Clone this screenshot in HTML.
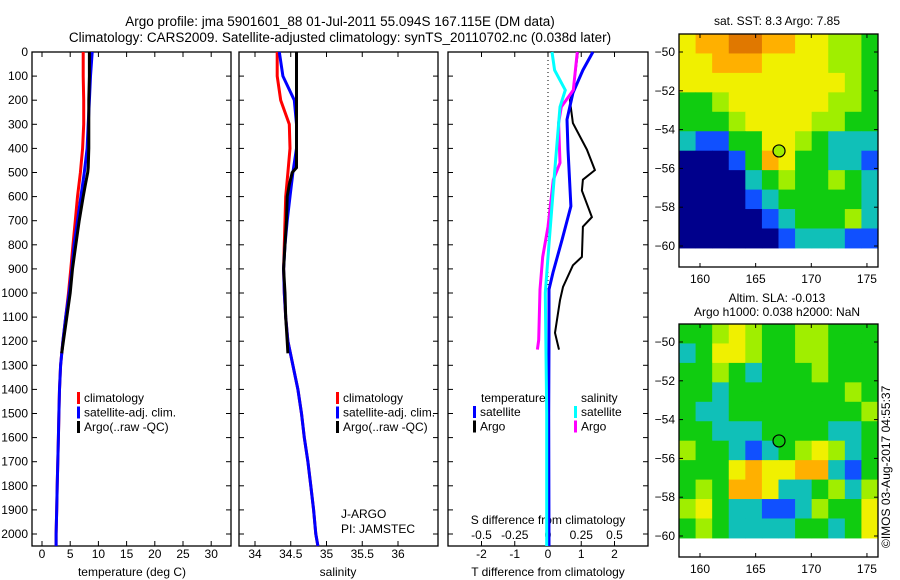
<!DOCTYPE html>
<html><head><meta charset="utf-8"><style>
body{margin:0;background:#fff;}
svg{display:block;font-family:"Liberation Sans",sans-serif;}
text{fill:#000;}
</style></head><body>
<svg id="fig" width="900" height="580" viewBox="0 0 900 580" xmlns="http://www.w3.org/2000/svg">
<text x="340" y="26" font-size="13.5" text-anchor="middle">Argo profile: jma 5901601_88 01-Jul-2011 55.094S 167.115E (DM data)</text>
<text x="340" y="42" font-size="13.5" text-anchor="middle">Climatology: CARS2009. Satellite-adjusted climatology: synTS_20110702.nc (0.038d later)</text>
<g id="g"></g>
</svg>
<script>
// ---- data ----
const depths=[0,100,200,300,400,500,600,700,800,900,1000,1100,1200,1300,1400,1500,1600,1700,1800,1900,2000,2050];
const argoDepths=[0,100,200,300,400,480,500,550,600,700,800,900,1000,1100,1200,1250];
const tempClim=[7.3,7.3,7.4,7.4,7.2,6.8,6.3,5.9,5.5,5.1,4.7,4.2,3.7,3.3,3.1,3.0,2.9,2.8,2.7,2.6,2.5,2.5];
const tempSat=[8.9,8.6,8.4,8.2,8.0,7.5,6.9,6.3,5.7,5.3,4.8,4.2,3.7,3.3,3.1,3.0,2.9,2.8,2.7,2.6,2.5,2.5];
const tempArgo=[8.4,8.4,8.3,8.3,8.3,8.2,8.1,7.7,7.3,6.6,6.0,5.4,5.0,4.4,3.8,3.5];
const salClim=[34.31,34.31,34.36,34.48,34.49,34.46,34.43,34.42,34.41,34.40,34.41,34.43,34.46,34.53,34.60,34.65,34.69,34.74,34.78,34.82,34.85,34.88];
const salSat=[34.34,34.39,34.55,34.58,34.58,34.53,34.49,34.45,34.42,34.40,34.41,34.43,34.46,34.53,34.60,34.65,34.69,34.74,34.78,34.82,34.85,34.88];
const salArgo=[34.58,34.58,34.58,34.58,34.58,34.58,34.52,34.48,34.45,34.44,34.42,34.40,34.42,34.43,34.45,34.46];
const dtArgoDepths=[0,170,200,295,405,490,530,575,685,725,850,885,975,1030,1165,1235];
const dtArgo=[0.9,0.75,0.66,0.75,1.17,1.41,1.05,1.02,1.32,1.05,1.02,0.75,0.45,0.36,0.21,0.33];
const dtSatDepths=[0,75,170,280,405,640,780,915,985,1200,1500,2050];
const dtSat=[1.35,1.05,0.75,0.57,0.6,0.69,0.42,0.15,0.03,0.03,0.02,0.03];
const dsSatDepths=[0,75,158,228,500,850,1000,1500,2050];
const dsSat=[0.03,0.05,0.13,0.09,0.05,0.0,-0.02,-0.01,-0.01];
const dsArgoDepths=[0,158,228,295,460,530,725,850,985,1195,1235];
const dsArgo=[0.22,0.19,0.1,0.08,0.09,0.04,0.0,-0.04,-0.06,-0.07,-0.08];
const depthTicks=[0,100,200,300,400,500,600,700,800,900,1000,1100,1200,1300,1400,1500,1600,1700,1800,1900,2000];
const tempTicks=[0,5,10,15,20,25,30];
const salTicks=["34","34.5","35","35.5","36"];
const dtTicks=["-2","-1","0","1","2"];
const dsTicks=["-0.5","-0.25","0","0.25","0.5"];
const latTicks=[-50,-52,-54,-56,-58,-60];
const lonTicks=[160,165,170,175];
const sstGrid=["YOORROOYYLLG","YYOOOYYYYLLG","YYYYYYYYYYLG","GGLYYYYYYLLG","GGGLYYYYLLGG","CBBGGYYLGCCC","NNNBGOYGGCCB","NNNNCGLGGLGC","NNNNBCGGGGGC","NNNNNBCGGGLC","NNNNNNBCCCBB"];
const slaGrid=["GGLYLGGLLGGG","CGYYLGGLLGGG","GGLGCGGGLGGG","GGCGGGGGGGLG","GCCGGGGGGGGL","GGCCCGGGGCCG","LGGCBCGLYLCG","GGGYOYYOOCBG","GLGOOYCCGLCL","LYGCCBBCLGGY","GLGCCCCGGCGY"];
const argoLon=167.1, argoLat=-55.1;

// ---- helpers ----
const NS="http://www.w3.org/2000/svg";
const G=document.getElementById('g');
function mk(tag,attrs,parent){const e=document.createElementNS(NS,tag);for(const k in attrs)e.setAttribute(k,attrs[k]);(parent||G).appendChild(e);return e;}
function txt(s,x,y,size,anchor,parent){const t=mk('text',{x:x,y:y,'font-size':size,'text-anchor':anchor||'middle'},parent);t.textContent=s;return t;}
const top0=52, bot0=546;
const yD=d=>top0+0.241*d;
const xT=v=>42+5.64*v;
const xS=v=>255+71.5*(v-34);
const xDT=v=>548+33.25*v;
const xDS=v=>548+133*v;

function panel(name,x0,x1){
  const r=mk('rect',{x:x0,y:top0,width:x1-x0,height:bot0-top0,fill:'none',stroke:'#000','stroke-width':1.3});
  
  
  depthTicks.forEach(d=>{mk('line',{x1:x0,x2:x0+5,y1:yD(d),y2:yD(d),stroke:'#000'});mk('line',{x1:x1,x2:x1-5,y1:yD(d),y2:yD(d),stroke:'#000'});});
}
function xticks(pos,labels,y,parent){
  pos.forEach((p,i)=>{mk('line',{x1:p,x2:p,y1:bot0,y2:bot0-5,stroke:'#000'});mk('line',{x1:p,x2:p,y1:top0,y2:top0+5,stroke:'#000'});
    const t=txt(labels[i],p,y,12);});
}
function line(name,ds,vals,xf,color,w){
  const pts=ds.map((d,i)=>xf(vals[i]).toFixed(1)+','+yD(d).toFixed(1)).join(' ');
  const p=mk('polyline',{points:pts,fill:'none',stroke:color,'stroke-width':w,'stroke-linejoin':'miter'});
  
  
}
function legend(items,x,y0,parent){
  items.forEach((it,i)=>{const y=y0+i*14.5;mk('rect',{x:x,y:y-10,width:3,height:12,fill:it[1]});
    const t=txt(it[0],x+7,y,12,'start');});
}

// depth labels
depthTicks.forEach(d=>{const t=txt(String(d),28,yD(d)+4,12,'end');});

// panel 1 temperature
panel('temperature-panel',32,231);
xticks(tempTicks.map(xT),tempTicks.map(String),558);
line('temp-climatology',depths,tempClim,xT,'#ff0000',3);
line('temp-satellite',depths,tempSat,xT,'#0000ff',3);
line('temp-argo',argoDepths,tempArgo,xT,'#000',3);
txt('temperature (deg C)',132,576,12);
legend([['climatology','#ff0000'],['satellite-adj. clim.','#0000ff'],['Argo(..raw -QC)','#000']],77,402);

// panel 2 salinity
panel('salinity-panel',239,438);
xticks(salTicks.map(s=>xS(parseFloat(s))),salTicks,558);
line('sal-climatology',depths,salClim,xS,'#ff0000',3);
line('sal-satellite',depths,salSat,xS,'#0000ff',3);
line('sal-argo',argoDepths,salArgo,xS,'#000',3);
txt('salinity',338,576,12);
legend([['climatology','#ff0000'],['satellite-adj. clim.','#0000ff'],['Argo(..raw -QC)','#000']],336,402);
txt('J-ARGO',341,518,12,'start');
txt('PI: JAMSTEC',341,533,12,'start');

// panel 3 differences
panel('difference-panel',448,648);
mk('line',{x1:548,x2:548,y1:top0,y2:bot0,stroke:'#000','stroke-dasharray':'1,3'});
xticks(dtTicks.map(s=>xDT(parseFloat(s))),dtTicks,558);
dsTicks.forEach(s=>{const t=txt(s,xDS(parseFloat(s)),539,12);});
txt('S difference from climatology',548,524,12);
txt('T difference from climatology',548,576,12);
line('dt-argo',dtArgoDepths,dtArgo,xDT,'#000',2);
line('dt-satellite',dtSatDepths,dtSat,xDT,'#0000ff',3);
line('ds-argo',dsArgoDepths,dsArgo,xDS,'#ff00ff',3);
line('ds-satellite',dsSatDepths,dsSat,xDS,'#00ffff',3);
txt('temperature',481,402,12,'start');
txt('salinity',581,402,12,'start');
legend([['satellite','#0000ff'],['Argo','#000']],473,416);
legend([['satellite','#00ffff'],['Argo','#ff00ff']],574,416);

// maps
const pal={N:'#00008c',B:'#1050ff',C:'#10c0b8',G:'#10cc10',L:'#a0ee00',Y:'#f0f000',O:'#ffb000',R:'#e07800'};
const mx0=679,mx1=878;
function mapPanel(name,grid,boxTop,lat50y,circleFill){
  const xL=lon=>700+(lon-160)*11.13;
  const yL=lat=>lat50y+(-50-lat)*19.4;
  const g=mk('g',{});
  
  
  const cols=grid[0].length, rows=grid.length;
  const cw=(mx1-mx0)/cols, ytop=boxTop, ybot=yL(-60.1), ch=(ybot-ytop)/rows;
  grid.forEach((row,r)=>{for(let c=0;c<cols;c++){mk('rect',{x:mx0+c*cw,y:ytop+r*ch,width:cw+0.5,height:ch+0.5,fill:pal[row[c]]},g);}});
  mk('rect',{x:mx0,y:boxTop,width:mx1-mx0,height:233,fill:'none',stroke:'#000','stroke-width':1.3},g);
  latTicks.forEach(l=>{const y=yL(l);mk('line',{x1:mx0,x2:mx0+4,y1:y,y2:y,stroke:'#000'},g);mk('line',{x1:mx1,x2:mx1-4,y1:y,y2:y,stroke:'#000'},g);
    const t=txt(String(l).replace('-','\u2212'),675,y+4,12,'end',g);});
  lonTicks.forEach(l=>{const x=xL(l);mk('line',{x1:x,x2:x,y1:boxTop,y2:boxTop+4,stroke:'#000'},g);mk('line',{x1:x,x2:x,y1:boxTop+233,y2:boxTop+229,stroke:'#000'},g);
    const t=txt(String(l),x,boxTop+249,12,'middle',g);});
  const c=mk('circle',{cx:xL(argoLon),cy:yL(argoLat),r:6,fill:circleFill,stroke:'#000','stroke-width':1.2},g);
  
  
}
mapPanel('sst-map',sstGrid,34,52,'#a0ee00');
mapPanel('sla-map',slaGrid,324,342,'#10cc10');
txt('sat. SST: 8.3 Argo: 7.85',777,25,12);
txt('Altim. SLA: -0.013',777,302,12);
txt('Argo h1000: 0.038 h2000: NaN',777,316,12);
const cp=txt('\u00a9IMOS 03-Aug-2017 04:55:37',0,0,12,'start');
cp.setAttribute('transform','translate(890,548) rotate(-90)');

</script>
</body></html>
